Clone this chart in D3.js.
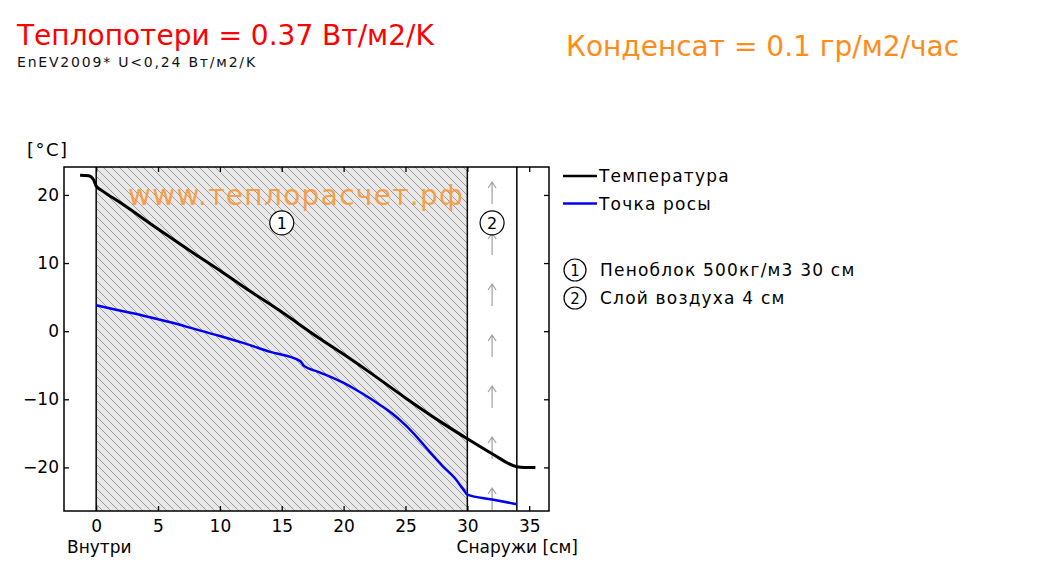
<!DOCTYPE html>
<html><head><meta charset="utf-8">
<script src="https://cdn.jsdelivr.net/npm/d3@7/dist/d3.min.js"></script>
<style>
html,body{margin:0;padding:0;background:#fff;}
svg{display:block;font-family:"DejaVu Sans",Verdana,sans-serif;}
</style></head>
<body>
<svg id="c" width="1057" height="588"></svg>
<script>
// ---- data ----
const tempX = [-1.3, -0.6, -0.2, 0, 0.5, 2, 5, 8, 10, 12, 15, 18, 20, 22, 25, 28, 30, 32, 34, 34.6, 35.5];
const tempY = [22.9, 22.8, 22.2, 21.3, 20.6, 18.8, 15.0, 11.3, 8.9, 6.4, 2.8, -1.0, -3.4, -5.9, -9.8, -13.5, -15.8, -18.0, -19.9, -20.0, -20.0];
const dewX = [0, 2, 4, 6, 8, 10, 12, 14, 16.5, 16.8, 18, 20, 21, 22, 23, 24, 25, 26, 27, 28, 29, 29.7, 30, 32, 34];
const dewY = [3.8, 3.0, 2.2, 1.3, 0.3, -0.7, -1.8, -3.0, -4.4, -5.1, -6.0, -7.6, -8.6, -9.7, -10.9, -12.2, -13.8, -15.7, -17.8, -19.8, -21.6, -23.3, -24.0, -24.7, -25.4];
const layerBounds = [0, 30, 34];
const layerNames = ["Пеноблок 500кг/м3 30 см", "Слой воздуха 4 см"];
const xTicks = [0, 5, 10, 15, 20, 25, 30, 35];
const yTicks = [-20, -10, 0, 10, 20];
const seriesNames = ["Температура", "Точка росы"];
const seriesColors = ["#000000", "#0000ee"];
const title1 = "Теплопотери = 0.37 Вт/м2/K";
const title2 = "EnEV2009* U<0,24 Вт/м2/K";
const title3 = "Конденсат = 0.1 гр/м2/час";
const watermark = "www.теплорасчет.рф";

// ---- layout ----
const svg = d3.select("#c");
const L = 64, R = 549, T = 167, B = 511;
const x = d3.scaleLinear().domain([-2.6, 36.6]).range([L, R]);
const y = d3.scaleLinear().domain([-26.4, 24.1]).range([B, T]);

const defs = svg.append("defs");
const hs = 8;
const pat = defs.append("pattern").attr("id", "hatch").attr("patternUnits", "userSpaceOnUse")
  .attr("width", hs).attr("height", hs);
pat.append("rect").attr("width", hs).attr("height", hs).attr("fill", "#e8e8e8");
pat.append("path").attr("d", `M0,0L${hs},${hs}M-1,${hs - 1}L1,${hs + 1}M${hs - 1},-1L${hs + 1},1`)
  .attr("stroke", "#9a9a9a").attr("stroke-width", 1);
defs.append("clipPath").attr("id", "clip").append("rect")
  .attr("x", L).attr("y", T).attr("width", R - L).attr("height", B - T);

// titles
svg.append("text").attr("x", 17).attr("y", 45).attr("fill", "#ff0000")
  .attr("font-size", 28).text(title1);
svg.append("text").attr("x", 17).attr("y", 67).attr("fill", "#111")
  .attr("font-size", 14).attr("letter-spacing", 1.8).text(title2);
svg.append("text").attr("x", 566).attr("y", 56).attr("fill", "#ff8c1a")
  .attr("font-size", 28).text(title3);

// layer 1 hatched
const g = svg.append("g").attr("clip-path", "url(#clip)");
g.append("rect").attr("x", x(layerBounds[0])).attr("y", T)
  .attr("width", x(layerBounds[1]) - x(layerBounds[0])).attr("height", B - T)
  .attr("fill", "url(#hatch)");

// air layer arrows
const ax = x((layerBounds[1] + layerBounds[2]) / 2);
const arrowTops = d3.range(0, 7).map(i => T + 15 + i * 51);
arrowTops.forEach(t => {
  g.append("path").attr("d", `M${ax},${t + 22}V${t}M${ax - 4},${t + 6}L${ax},${t}L${ax + 4},${t + 6}`)
    .attr("fill", "none").attr("stroke", "#a0a0a0").attr("stroke-width", 1.2);
});

// watermark
svg.append("text").attr("x", 128).attr("y", 205).attr("fill", "#f79a3e").attr("opacity", 0.9)
  .attr("font-size", 28).attr("letter-spacing", 1.3).text(watermark);

// layer boundary lines
layerBounds.forEach(v => {
  svg.append("line").attr("x1", x(v)).attr("x2", x(v)).attr("y1", T).attr("y2", B)
    .attr("stroke", "#000").attr("stroke-width", 1.5);
});

// circled labels in layers
const circY = y(15.9);
[0, 1].forEach(i => {
  const cx = x((layerBounds[i] + layerBounds[i + 1]) / 2);
  svg.append("circle").attr("cx", cx).attr("cy", circY).attr("r", 12)
    .attr("fill", "#fff").attr("stroke", "#000").attr("stroke-width", 1.2);
  svg.append("text").attr("x", cx).attr("y", circY + 6).attr("text-anchor", "middle")
    .attr("font-size", 16).text(i + 1);
});

// curves
const line = d3.line().x(d => x(d[0])).y(d => y(d[1])).curve(d3.curveMonotoneX);
svg.append("path").datum(tempX.map((v, i) => [v, tempY[i]])).attr("d", line)
  .attr("fill", "none").attr("stroke", seriesColors[0]).attr("stroke-width", 3).attr("stroke-linejoin", "round");
svg.append("path").datum(dewX.map((v, i) => [v, dewY[i]])).attr("d", line)
  .attr("fill", "none").attr("stroke", seriesColors[1]).attr("stroke-width", 2.5).attr("stroke-linejoin", "round");

// axes (ticks inward)
const fs = 17;
svg.append("g").attr("transform", `translate(0,${B})`)
  .call(d3.axisBottom(x).tickValues(xTicks).tickSizeInner(-5).tickSizeOuter(0).tickPadding(9))
  .call(a => a.select(".domain").remove())
  .call(a => a.selectAll("text").attr("font-size", fs).attr("font-family", "DejaVu Sans").attr("fill", "#000"));
svg.append("g").attr("transform", `translate(0,${T})`)
  .call(d3.axisTop(x).tickValues(xTicks).tickSizeInner(-5).tickSizeOuter(0).tickFormat(""))
  .call(a => a.select(".domain").remove());
svg.append("g").attr("transform", `translate(${L},0)`)
  .call(d3.axisLeft(y).tickValues(yTicks).tickSizeInner(-5).tickSizeOuter(0).tickPadding(5))
  .call(a => a.select(".domain").remove())
  .call(a => a.selectAll("text").attr("font-size", fs).attr("font-family", "DejaVu Sans").attr("fill", "#000"));
svg.append("g").attr("transform", `translate(${R},0)`)
  .call(d3.axisRight(y).tickValues(yTicks).tickSizeInner(-5).tickSizeOuter(0).tickFormat(""))
  .call(a => a.select(".domain").remove());
svg.selectAll(".tick line").attr("stroke", "#000").attr("stroke-width", 1.3);

// frame
svg.append("rect").attr("x", L).attr("y", T).attr("width", R - L).attr("height", B - T)
  .attr("fill", "none").attr("stroke", "#000").attr("stroke-width", 1.5);

// axis labels
svg.append("text").attr("x", 27).attr("y", 156).attr("font-size", 18).attr("letter-spacing", 1.5).text("[°C]");
svg.append("text").attr("x", 67).attr("y", 553).attr("font-size", fs).text("Внутри");
svg.append("text").attr("x", 578).attr("y", 553).attr("text-anchor", "end").attr("font-size", fs).text("Снаружи [см]");

// legend
seriesNames.forEach((n, i) => {
  const ly = 176 + i * 27.5;
  svg.append("line").attr("x1", 563).attr("x2", 597).attr("y1", ly).attr("y2", ly)
    .attr("stroke", seriesColors[i]).attr("stroke-width", 2.5);
  svg.append("text").attr("x", 599).attr("y", ly + 6).attr("font-size", fs).attr("letter-spacing", 1.2).text(n);
});
layerNames.forEach((n, i) => {
  const ly = 270 + i * 28;
  svg.append("circle").attr("cx", 575).attr("cy", ly).attr("r", 11)
    .attr("fill", "#fff").attr("stroke", "#000").attr("stroke-width", 1.2);
  svg.append("text").attr("x", 575).attr("y", ly + 6).attr("text-anchor", "middle").attr("font-size", 15).text(i + 1);
  svg.append("text").attr("x", 600).attr("y", ly + 6).attr("font-size", fs).attr("letter-spacing", 1.2).text(n);
});
</script>
</body></html>
